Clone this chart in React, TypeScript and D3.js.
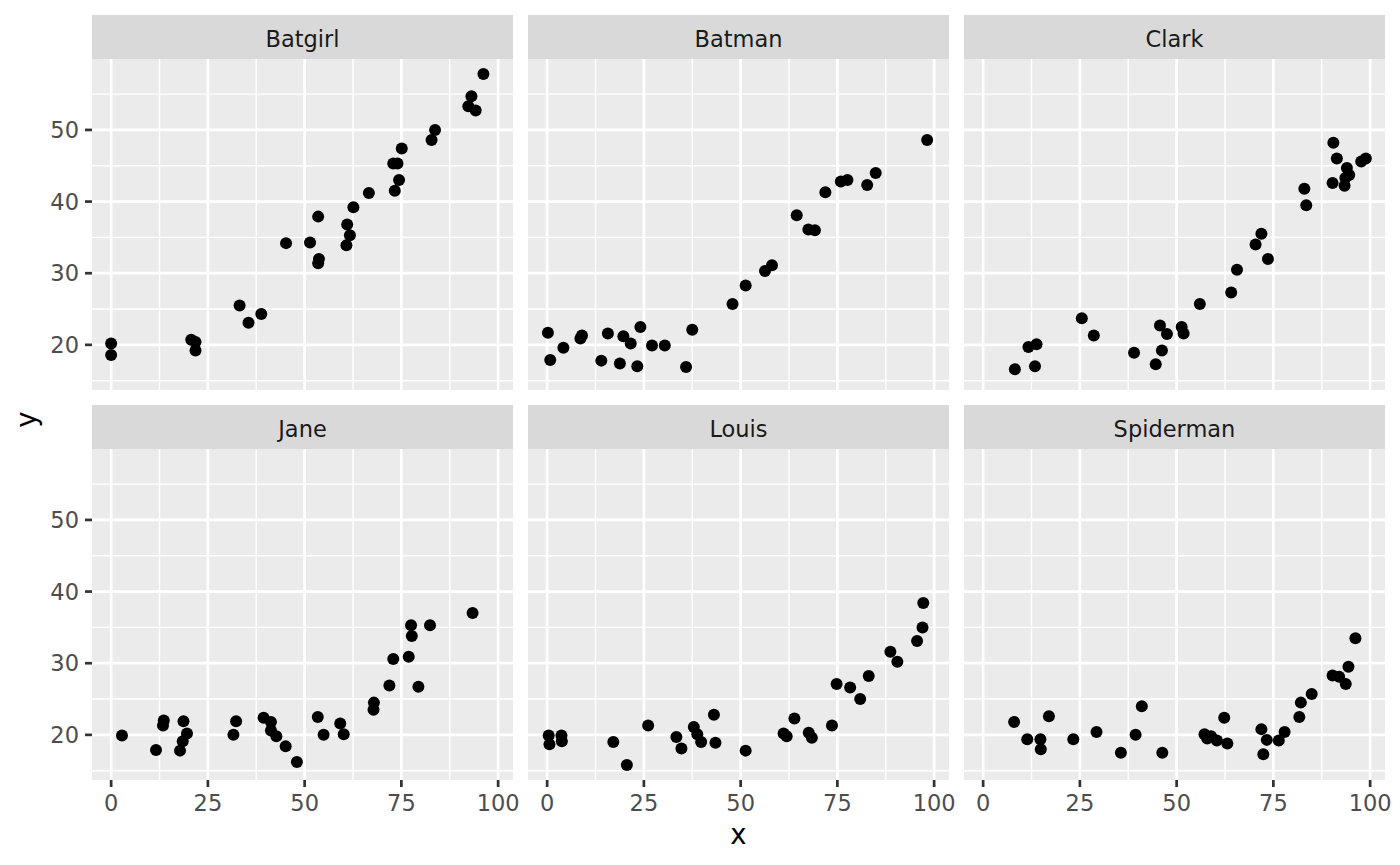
import * as d3 from "d3";
import React from "react";

// facet names, in panel order
const heroes = ["Batgirl", "Batman", "Clark", "Jane", "Louis", "Spiderman"];

// [x, y] readings per facet
const batgirl: [number, number][] = [
  [0, 20.2], [0, 18.6], [20.7, 20.7], [21.8, 20.4], [21.8, 19.2],
  [33.2, 25.5], [35.5, 23.1], [38.8, 24.3], [45.2, 34.2], [51.4, 34.3],
  [53.5, 37.9], [53.7, 32.0], [53.5, 31.4], [61.0, 36.8], [61.7, 35.3],
  [60.8, 33.9], [62.6, 39.2], [66.6, 41.2], [73.3, 41.5], [74.4, 43.0],
  [72.9, 45.3], [74.0, 45.3], [75.1, 47.4], [82.8, 48.6], [83.7, 50.0],
  [92.3, 53.3], [93.1, 54.7], [94.2, 52.7], [96.2, 57.8],
];

const batman: [number, number][] = [
  [0.2, 21.7], [0.8, 17.9], [4.2, 19.6], [8.6, 20.9], [9.0, 21.3],
  [14.0, 17.8], [15.7, 21.6], [18.8, 17.4], [19.7, 21.2], [21.6, 20.2],
  [23.3, 17.0], [24.1, 22.5], [27.1, 19.9], [30.4, 19.9], [35.9, 16.9],
  [37.5, 22.1], [47.9, 25.7], [51.3, 28.3], [56.3, 30.3], [58.1, 31.1],
  [64.5, 38.1], [67.5, 36.1], [69.2, 36.0], [71.9, 41.3], [75.9, 42.8],
  [77.6, 43.0], [82.7, 42.3], [84.9, 44.0], [98.2, 48.6],
];

const clark: [number, number][] = [
  [8.2, 16.6], [11.7, 19.7], [13.8, 20.1], [13.4, 17.0], [25.5, 23.7],
  [28.6, 21.3], [39.0, 18.9], [44.6, 17.3], [46.2, 19.2], [45.7, 22.7],
  [47.5, 21.5], [51.3, 22.5], [51.8, 21.6], [56.0, 25.7], [64.1, 27.3],
  [65.6, 30.5], [70.4, 34.0], [71.9, 35.5], [73.6, 32.0], [83.0, 41.8],
  [83.5, 39.5], [90.3, 42.6], [90.5, 48.2], [91.4, 46.0], [93.4, 42.2],
  [94.0, 44.7], [94.6, 43.7], [93.6, 43.3], [97.7, 45.6], [98.9, 46.0],
];

const jane: [number, number][] = [
  [2.8, 19.9], [11.6, 17.9], [13.6, 22.0], [13.4, 21.3], [18.7, 21.9],
  [19.6, 20.2], [18.5, 19.1], [17.8, 17.8], [31.6, 20.0], [32.3, 21.9],
  [39.4, 22.4], [41.3, 21.8], [41.3, 20.6], [42.7, 19.8], [45.1, 18.4],
  [48.0, 16.2], [53.4, 22.5], [54.9, 20.0], [59.2, 21.6], [60.1, 20.1],
  [67.9, 24.5], [67.8, 23.5], [71.9, 26.9], [72.9, 30.6], [76.9, 30.9],
  [79.4, 26.7], [77.5, 35.3], [77.7, 33.8], [82.4, 35.3], [93.4, 37.0],
];

const louis: [number, number][] = [
  [0.4, 19.9], [0.6, 18.7], [3.7, 19.9], [3.8, 19.1], [17.1, 19.0],
  [20.6, 15.8], [26.1, 21.3], [33.4, 19.7], [34.7, 18.1], [37.9, 21.1],
  [38.8, 20.1], [39.8, 19.0], [43.1, 22.8], [43.5, 18.9], [51.3, 17.8],
  [61.1, 20.2], [61.9, 19.8], [63.9, 22.3], [67.6, 20.3], [68.4, 19.6],
  [73.6, 21.3], [74.8, 27.1], [78.3, 26.6], [80.9, 25.0], [83.1, 28.2],
  [88.7, 31.6], [90.5, 30.2], [95.6, 33.1], [97.0, 35.0], [97.2, 38.4],
];

const spiderman: [number, number][] = [
  [8.0, 21.8], [11.4, 19.4], [14.8, 19.4], [14.9, 18.0], [17.0, 22.6],
  [23.3, 19.4], [29.3, 20.4], [35.6, 17.5], [39.4, 20.0], [41.0, 24.0],
  [46.3, 17.5], [57.2, 20.1], [57.9, 19.5], [58.9, 19.8], [60.4, 19.2],
  [63.1, 18.8], [62.3, 22.4], [71.9, 20.8], [73.3, 19.3], [72.4, 17.3],
  [76.4, 19.2], [77.9, 20.4], [81.7, 22.5], [82.1, 24.5], [84.9, 25.7],
  [90.3, 28.3], [92.0, 28.1], [93.7, 27.1], [94.4, 29.5], [96.2, 33.5],
];

const seriesByHero = [batgirl, batman, clark, jane, louis, spiderman];

const xBreaks = [0, 25, 50, 75, 100];
const yBreaks = [20, 30, 40, 50];

const width = 1400;
const height = 865;
const plotLeft = 92;
const plotRight = 1385;
const plotTop = 15;
const gap = 15;
const stripH = 44;
const panelH = 331;
const nCol = 3;
const panelW = (plotRight - plotLeft - gap * (nCol - 1)) / nCol;

const font = "'DejaVu Sans', sans-serif";

function expand([lo, hi]: [number, number]): [number, number] {
  const pad = (hi - lo) * 0.05;
  return [lo - pad, hi + pad];
}

function minorBreaks(major: number[], domain: [number, number]) {
  const step = major[1] - major[0];
  const out: number[] = [];
  for (let v = major[0] - step / 2; v <= major[major.length - 1] + step; v += step) {
    if (v >= domain[0] && v <= domain[1]) out.push(v);
  }
  return out;
}

export default function App() {
  const all = seriesByHero.flat();
  const xDomain = expand(d3.extent(all, (d) => d[0]) as [number, number]);
  const yDomain = expand(d3.extent(all, (d) => d[1]) as [number, number]);

  const xScale = d3.scaleLinear(xDomain, [0, panelW]);
  const yScale = d3.scaleLinear(yDomain, [panelH, 0]);

  const xMinor = minorBreaks(xBreaks, xDomain);
  const yMinor = minorBreaks(yBreaks, yDomain);

  return (
    <svg
      width={width}
      height={height}
      style={{ position: "absolute", left: 0, top: 0, background: "#fff" }}
      fontFamily={font}
    >
      {heroes.map((name, i) => {
        const col = i % nCol;
        const row = Math.floor(i / nCol);
        const px = plotLeft + col * (panelW + gap);
        const stripY = plotTop + row * (stripH + panelH + gap);
        const py = stripY + stripH;
        const data = seriesByHero[i];
        return (
          <g key={name}>
            {/* strip */}
            <rect x={px} y={stripY} width={panelW} height={stripH} fill="#D9D9D9" />
            <text
              x={px + panelW / 2}
              y={stripY + 31.5}
              textAnchor="middle"
              fontSize={22.5}
              fill="#1A1A1A"
            >
              {name}
            </text>
            {/* panel */}
            <g transform={`translate(${px},${py})`}>
              <rect width={panelW} height={panelH} fill="#EBEBEB" />
              {xMinor.map((v) => (
                <line key={`xm${v}`} x1={xScale(v)} x2={xScale(v)} y2={panelH} stroke="#fff" strokeWidth={1.4} />
              ))}
              {yMinor.map((v) => (
                <line key={`ym${v}`} y1={yScale(v)} y2={yScale(v)} x2={panelW} stroke="#fff" strokeWidth={1.4} />
              ))}
              {xBreaks.map((v) => (
                <line key={`x${v}`} x1={xScale(v)} x2={xScale(v)} y2={panelH} stroke="#fff" strokeWidth={2.7} />
              ))}
              {yBreaks.map((v) => (
                <line key={`y${v}`} y1={yScale(v)} y2={yScale(v)} x2={panelW} stroke="#fff" strokeWidth={2.7} />
              ))}
              {data.map(([x, y], j) => (
                <circle key={j} cx={xScale(x)} cy={yScale(y)} r={6} fill="#000" />
              ))}
              {/* y axis on the first column */}
              {col === 0 &&
                yBreaks.map((v) => (
                  <g key={`ya${v}`} transform={`translate(0,${yScale(v)})`}>
                    <line x1={-7} x2={0} stroke="#333333" strokeWidth={2.7} />
                    <text x={-13} dy="0.36em" textAnchor="end" fontSize={22.5} fill="#4D4D4D">
                      {v}
                    </text>
                  </g>
                ))}
              {/* x axis on the bottom row */}
              {row === 1 &&
                xBreaks.map((v) => (
                  <g key={`xa${v}`} transform={`translate(${xScale(v)},${panelH})`}>
                    <line y1={0} y2={7} stroke="#333333" strokeWidth={2.7} />
                    <text y={31} textAnchor="middle" fontSize={22.5} fill="#4D4D4D">
                      {v}
                    </text>
                  </g>
                ))}
            </g>
          </g>
        );
      })}
      {/* axis titles */}
      <text x={(plotLeft + plotRight) / 2} y={844} textAnchor="middle" fontSize={27.5} fill="#000">
        x
      </text>
      <text
        transform={`translate(35.5,${(plotTop + stripH + plotTop + 2 * (stripH + panelH) + gap) / 2}) rotate(-90)`}
        textAnchor="middle"
        fontSize={27.5}
        fill="#000"
      >
        y
      </text>
    </svg>
  );
}
